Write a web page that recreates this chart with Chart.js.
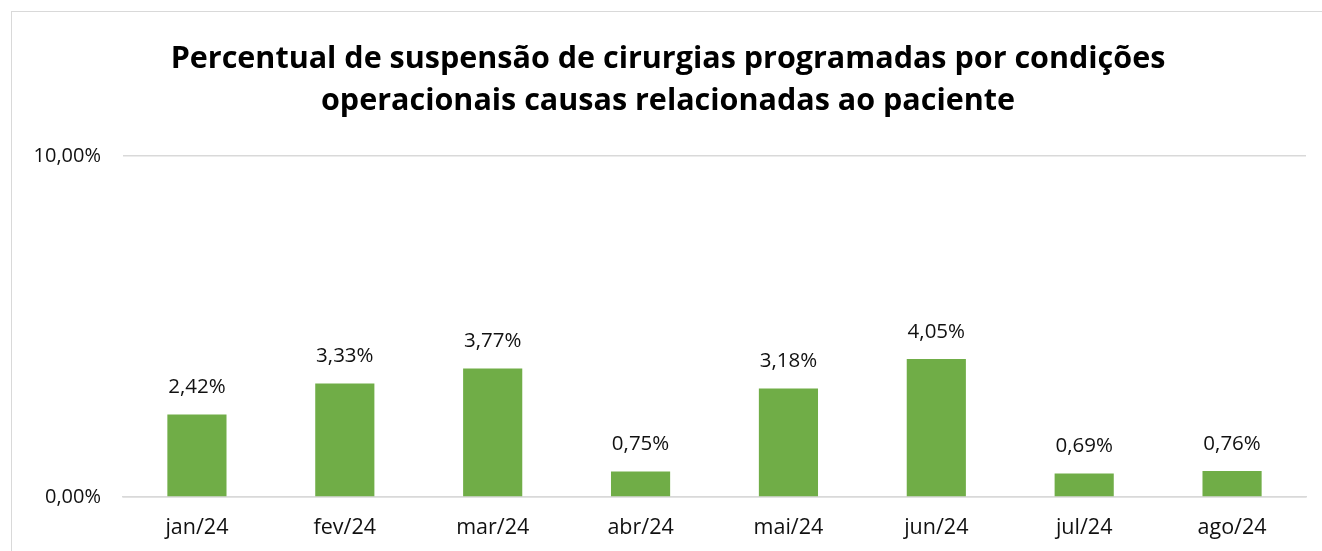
<!DOCTYPE html>
<html>
<head>
<meta charset="utf-8">
<script src="https://cdn.jsdelivr.net/npm/chart.js@4.4.1/dist/chart.umd.min.js"></script>
<style>
  html, body { margin: 0; padding: 0; background: #fff; overflow: hidden; }
  #frame { position: absolute; left: 11px; top: 11px; width: 1400px; height: 600px; border: 1px solid #d9d9d9; }
  #wrap { position: absolute; left: 0; top: 0; width: 1322px; height: 551px; }
</style>
</head>
<body>
<div id="frame"></div>
<div id="wrap"><canvas id="chart"></canvas></div>
<script>
const months = ['jan/24', 'fev/24', 'mar/24', 'abr/24', 'mai/24', 'jun/24', 'jul/24', 'ago/24'];
const percentuais = [2.42, 3.33, 3.77, 0.75, 3.18, 4.05, 0.69, 0.76];
const yTicks = [0, 10];

const fontFamily = '"Open Sans", Lato, sans-serif';

function fmt(v) {
    return v.toFixed(2).replace('.', ',') + '%';
}

// draw the value above each bar
const barLabels = {
    id: 'barLabels',
    afterDatasetsDraw(chart) {
        const ctx = chart.ctx;
        const meta = chart.getDatasetMeta(0);
        ctx.save();
        ctx.font = '20.5px ' + fontFamily;
        ctx.fillStyle = '#111';
        ctx.textAlign = 'center';
        ctx.textBaseline = 'middle';
        meta.data.forEach((bar, i) => {
            ctx.fillText(fmt(percentuais[i]), bar.x, bar.y - 27);
        });
        ctx.restore();
    }
};

const ctx = document.getElementById('chart').getContext('2d');
new Chart(ctx, {
    type: 'bar',
    data: {
        labels: months,
        datasets: [{
            data: percentuais,
            backgroundColor: '#70ad47',
            borderWidth: 0,
            barPercentage: 0.4,
            categoryPercentage: 1
        }]
    },
    options: {
        responsive: true,
        maintainAspectRatio: false,
        animation: false,
        layout: {
            padding: { left: 30, right: 16, top: 0, bottom: 0 }
        },
        plugins: {
            legend: { display: false },
            tooltip: { enabled: false },
            title: {
                display: true,
                text: ['Percentual de suspensão de cirurgias programadas por condições', 'operacionais causas relacionadas ao paciente'],
                color: '#000',
                font: { family: fontFamily, size: 30.5, weight: 'bold', lineHeight: 1.38 },
                padding: { top: 38, bottom: 34 }
            }
        },
        scales: {
            x: {
                grid: { display: false, drawTicks: false },
                border: { color: '#d9d9d9', width: 1.5 },
                afterFit(axis) {
                    axis.height = 54;
                },
                ticks: {
                    color: '#111',
                    font: { family: fontFamily, size: 21.5 },
                    padding: 18
                }
            },
            y: {
                min: 0,
                max: 10,
                afterBuildTicks(axis) {
                    axis.ticks = yTicks.map(v => ({ value: v }));
                },
                afterFit(axis) {
                    axis.width = 93;
                },
                grid: { color: '#d9d9d9', lineWidth: 1.5, drawTicks: false },
                border: { display: false },
                ticks: {
                    color: '#111',
                    font: { family: fontFamily, size: 20 },
                    padding: 22,
                    callback: v => fmt(v)
                }
            }
        }
    },
    plugins: [barLabels]
});
</script>
</body>
</html>
